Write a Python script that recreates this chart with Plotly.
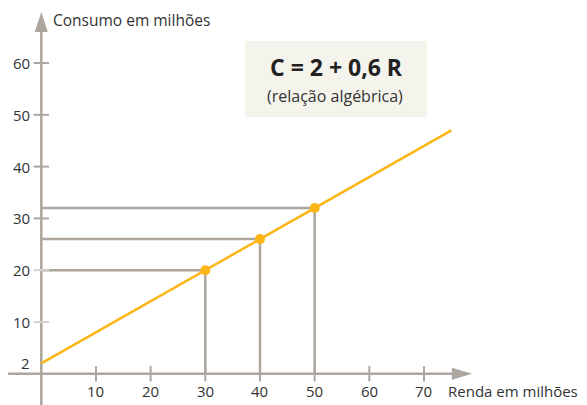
import plotly.graph_objects as go

# ---- data ----
line_R = [0, 75]          # Renda (start / end of drawn line)
line_C = [2, 47]          # Consumo
pts_R = [30, 40, 50]
pts_C = [20, 26, 32]
x_ticks = [10, 20, 30, 40, 50, 60, 70]
y_ticks = [10, 20, 30, 40, 50, 60]
y_tick_labels = ["2", "10", "20", "30", "40", "50", "60"]
y_tick_label_vals = [2, 10, 20, 30, 40, 50, 60]

GRAY = "#aca69f"
ORANGE = "#fbb616"
TXT = "#333333"
FONT = "Open Sans"

W, H = 587, 405
OFF = 8  # page body margin offset
X_RANGE = [-6.09, 101.28]
Y_RANGE = [-7.57, 70.62]


def px(x):
    return (x - OFF) / W


def py(y):
    return 1 - (y - OFF) / H


fig = go.Figure()

# reference lines (horizontal from y-axis, vertical down to x-axis)
rx, ry = [], []
for r, c in zip(pts_R, pts_C):
    rx += [0, r, None, r, r, None]
    ry += [c, c, None, 0, c, None]
fig.add_trace(go.Scatter(x=rx, y=ry, mode="lines",
                         line=dict(color=GRAY, width=2.5),
                         hoverinfo="skip", showlegend=False))

# x tick marks
fig.add_trace(go.Scatter(x=x_ticks, y=[0] * len(x_ticks), mode="markers",
                         marker=dict(symbol="line-ns-open", size=11, color=GRAY,
                                     line=dict(color=GRAY, width=2)),
                         hoverinfo="skip", showlegend=False))
# y tick marks
ytick_colors = ["#d6d3ce" if v in (10, 20) else GRAY for v in y_ticks]
fig.add_trace(go.Scatter(x=[0] * len(y_ticks), y=y_ticks, mode="markers",
                         marker=dict(symbol="line-ew-open", size=11,
                                     color=ytick_colors,
                                     line=dict(color=ytick_colors, width=2)),
                         hoverinfo="skip", showlegend=False))

# main line
fig.add_trace(go.Scatter(x=line_R, y=line_C, mode="lines",
                         line=dict(color=ORANGE, width=2.5),
                         hoverinfo="skip", showlegend=False))
# points
fig.add_trace(go.Scatter(x=pts_R, y=pts_C, mode="markers",
                         marker=dict(color=ORANGE, size=10),
                         hoverinfo="skip", showlegend=False))

shapes = []
# axes lines
shapes.append(dict(type="line", xref="x", yref="y", x0=-6.27, x1=75.3, y0=0, y1=0,
                   line=dict(color=GRAY, width=2.5), layer="below"))
shapes.append(dict(type="line", xref="x", yref="y", x0=0, x1=0, y0=Y_RANGE[0], y1=66.2,
                   line=dict(color=GRAY, width=2.5), layer="below"))
# arrow heads
shapes.append(dict(type="path", xref="x", yref="y",
                   path="M 75.1,-1.16 L 78.8,0 L 75.1,1.16 Z",
                   fillcolor=GRAY, line=dict(width=0), layer="below"))
shapes.append(dict(type="path", xref="x", yref="y",
                   path="M -1.19,66.0 L 0,69.85 L 1.19,66.0 Z",
                   fillcolor=GRAY, line=dict(width=0), layer="below"))
# formula box
shapes.append(dict(type="rect", xref="paper", yref="paper",
                   x0=px(245), x1=px(427), y0=py(117), y1=py(41),
                   fillcolor="#f5f4ec", line=dict(width=0), layer="below"))

ann = []
for v in x_ticks:
    ann.append(dict(x=v, y=0, xref="x", yref="y", text=str(v), showarrow=False,
                    yanchor="middle", xanchor="center", yshift=-17,
                    font=dict(family=FONT, size=15, color=TXT)))
for lab, v in zip(y_tick_labels, y_tick_label_vals):
    ann.append(dict(x=0, y=v, xref="x", yref="y", text=lab, showarrow=False,
                    yanchor="middle", xanchor="right", xshift=-9,
                    font=dict(family=FONT, size=15, color=TXT)))
ann.append(dict(x=px(51), y=py(20), xref="paper", yref="paper",
                text="Consumo em milhões", showarrow=False,
                xanchor="left", yanchor="middle",
                font=dict(family=FONT, size=15.5, color=TXT)))
ann.append(dict(x=px(446), y=py(391), xref="paper", yref="paper",
                text="Renda em milhões", showarrow=False,
                xanchor="left", yanchor="middle",
                font=dict(family=FONT, size=15, color=TXT)))
ann.append(dict(x=px(336), y=py(67), xref="paper", yref="paper",
                text="<b>C = 2 + 0,6 R</b>", showarrow=False,
                xanchor="center", yanchor="middle",
                font=dict(family=FONT, size=23, color="#222222")))
ann.append(dict(x=px(335), y=py(96), xref="paper", yref="paper",
                text="(relação algébrica)", showarrow=False,
                xanchor="center", yanchor="middle",
                font=dict(family=FONT, size=16, color=TXT)))

fig.update_layout(
    width=W, height=H,
    margin=dict(l=0, r=0, t=0, b=0),
    paper_bgcolor="white", plot_bgcolor="white",
    xaxis=dict(range=X_RANGE, visible=False, fixedrange=True),
    yaxis=dict(range=Y_RANGE, visible=False, fixedrange=True),
    shapes=shapes, annotations=ann, showlegend=False,
)

fig.write_html("out.html")
